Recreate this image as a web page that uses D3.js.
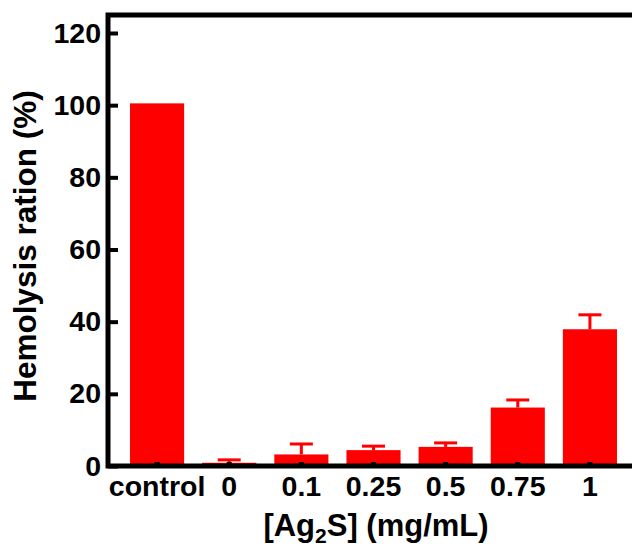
<!DOCTYPE html>
<html>
<head>
<meta charset="utf-8">
<script src="https://cdn.jsdelivr.net/npm/d3@7/dist/d3.min.js"></script>
<style>
  body { margin: 0; background: #fff; }
  svg text { font-family: "Liberation Sans", Arial, sans-serif; font-weight: bold; fill: #000; }
</style>
</head>
<body>
<div id="chart"></div>
<script>
// data
var groups = ["control", "0", "0.1", "0.25", "0.5", "0.75", "1"];
var values = [100.5, 0.9, 3.2, 4.4, 5.3, 16.2, 37.9];
var errors = [0, 0.8, 2.9, 1.1, 1.1, 2.1, 4.0];
var yTicks = [0, 20, 40, 60, 80, 100, 120];

var width = 632, height = 547;
var margin = {top: 33, left: 108, bottom: 81};
var frameTop = 15;

var svg = d3.select("#chart").append("svg")
    .attr("width", width)
    .attr("height", height);

var x = d3.scaleBand()
    .domain(groups)
    .range([121, 626])
    .paddingInner(0.25)
    .paddingOuter(0.125);

var y = d3.scaleLinear()
    .domain([0, 120])
    .range([height - margin.bottom, margin.top]);

// bars
svg.selectAll("rect.bar")
    .data(groups)
  .enter().append("rect")
    .attr("class", "bar")
    .attr("x", function(d){ return x(d); })
    .attr("y", function(d, i){ return y(values[i]); })
    .attr("width", x.bandwidth())
    .attr("height", function(d, i){ return y(0) - y(values[i]); })
    .style("fill", "#ff0000");

// error bars (upper only)
var capW = 23;
var err = svg.selectAll("g.err")
    .data(groups.filter(function(d, i){ return errors[i] > 0; }))
  .enter().append("g")
    .attr("class", "err");

err.append("line")
    .attr("x1", function(d){ return x(d) + x.bandwidth() / 2; })
    .attr("x2", function(d){ return x(d) + x.bandwidth() / 2; })
    .attr("y1", function(d){ var i = groups.indexOf(d); return y(values[i]); })
    .attr("y2", function(d){ var i = groups.indexOf(d); return y(values[i] + errors[i]); })
    .style("stroke", "#ff0000")
    .style("stroke-width", 3);

err.append("line")
    .attr("x1", function(d){ return x(d) + x.bandwidth() / 2 - capW / 2; })
    .attr("x2", function(d){ return x(d) + x.bandwidth() / 2 + capW / 2; })
    .attr("y1", function(d){ var i = groups.indexOf(d); return y(values[i] + errors[i]); })
    .attr("y2", function(d){ var i = groups.indexOf(d); return y(values[i] + errors[i]); })
    .style("stroke", "#ff0000")
    .style("stroke-width", 3);

// axes
var xAxis = d3.axisBottom(x).tickSizeInner(-4).tickSizeOuter(0).tickPadding(9);
var yAxis = d3.axisLeft(y).tickValues(yTicks).tickSizeInner(-10).tickSizeOuter(0).tickPadding(7);

var gx = svg.append("g")
    .attr("class", "x axis")
    .attr("transform", "translate(0," + y(0) + ")")
    .call(xAxis);

var gy = svg.append("g")
    .attr("class", "y axis")
    .attr("transform", "translate(" + margin.left + ",0)")
    .call(yAxis);

svg.selectAll(".axis .domain").remove();
svg.selectAll(".axis .tick line").style("stroke", "#000").style("stroke-width", 4);
gx.selectAll(".tick line").style("stroke-width", 5);
svg.selectAll(".axis text").style("font-size", "28.5px");
gx.selectAll("text").attr("dy", "0.72em");

// frame: left, top, bottom lines
svg.append("path")
    .attr("d", "M" + width + "," + frameTop + "H" + margin.left + "V" + y(0) + "H" + width)
    .style("fill", "none")
    .style("stroke", "#000")
    .style("stroke-width", 5);

// axis titles
var xt = svg.append("text")
    .attr("x", 376)
    .attr("y", 536)
    .attr("text-anchor", "middle")
    .style("font-size", "31px");
xt.append("tspan").text("[Ag");
xt.append("tspan").attr("dy", 7).style("font-size", "21px").text("2");
xt.append("tspan").attr("dy", -7).text("S] (mg/mL)");

svg.append("text")
    .attr("transform", "translate(36," + 246 + ") rotate(-90)")
    .attr("text-anchor", "middle")
    .style("font-size", "31.5px")
    .text("Hemolysis ration (%)");
</script>
</body>
</html>
